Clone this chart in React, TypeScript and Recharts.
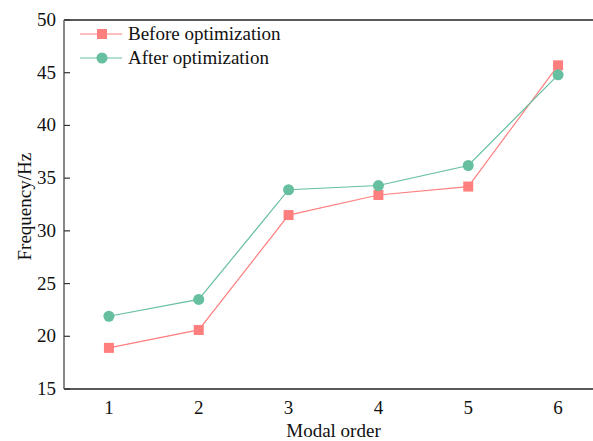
import { LineChart, Line, XAxis, YAxis, ReferenceLine } from "recharts";

const modes = [1, 2, 3, 4, 5, 6];
const before = [18.9, 20.6, 31.5, 33.4, 34.2, 45.7];
const after = [21.9, 23.5, 33.9, 34.3, 36.2, 44.8];
const yTicks = [15, 20, 25, 30, 35, 40, 45, 50];

const RED = "#ff7f7f";
const GREEN = "#66bf9f";
const FONT = "'Liberation Serif', 'Times New Roman', serif";
const FS = 19;

const data = modes.map((m, i) => ({ mode: m, before: before[i], after: after[i] }));

const SquareDot = (props: any) => {
  const { cx, cy, index } = props;
  return <rect key={`s-${index}`} x={cx - 5} y={cy - 5} width={10} height={10} fill={RED} />;
};

const CircleDot = (props: any) => {
  const { cx, cy, index } = props;
  return <circle key={`c-${index}`} cx={cx} cy={cy} r={5.5} fill={GREEN} />;
};

const YTick = (props: any) => {
  const { x, y, payload } = props;
  return (
    <g>
      <line x1={x} x2={x + 6} y1={y} y2={y} stroke="#333" strokeWidth={1.2} />
      <text x={x - 8} y={y} dy={6} textAnchor="end" fontSize={FS} fontFamily={FONT} fill="#111">
        {payload.value}
      </text>
    </g>
  );
};

const legendItems = [
  { name: "Before optimization", color: RED, sq: true },
  { name: "After optimization", color: GREEN, sq: false },
];

const LegendBox = () => (
  <div style={{ position: "absolute", left: 78, top: 22, fontFamily: FONT, fontSize: FS, color: "#111", lineHeight: "24px" }}>
    {legendItems.map((it) => (
      <div key={it.name} style={{ display: "flex", alignItems: "center" }}>
        <svg width={46} height={14}>
          <line x1={2} x2={44} y1={7} y2={7} stroke={it.color} strokeWidth={1.2} />
          {it.sq ? (
            <rect x={19} y={2} width={10} height={10} fill={it.color} />
          ) : (
            <circle cx={24} cy={7} r={5.5} fill={it.color} />
          )}
        </svg>
        <span style={{ marginLeft: 4 }}>{it.name}</span>
      </div>
    ))}
  </div>
);

export default function App() {
  return (
    <div style={{ position: "fixed", left: 0, top: 0, width: 593, height: 441, overflow: "hidden", background: "#fff" }}>
      <LineChart width={620} height={441} data={data} margin={{ top: 20, right: 17, left: 10, bottom: 22 }}>
        <ReferenceLine y={50} stroke="#222" strokeWidth={1.5} />
        <XAxis
          dataKey="mode"
          type="number"
          domain={[0.5, 6.5]}
          ticks={modes}
          height={30}
          axisLine={{ stroke: "#222", strokeWidth: 1.5 }}
          tickLine={false}
          tick={{ fontSize: FS, fontFamily: FONT, fill: "#111" }}
          tickMargin={6}
          label={{ value: "Modal order", position: "insideBottom", offset: -18, fontSize: FS, fontFamily: FONT, fill: "#111" }}
        />
        <YAxis
          type="number"
          domain={[15, 50]}
          ticks={yTicks}
          width={54}
          tickSize={0}
          tickMargin={0}
          tickLine={false}
          axisLine={{ stroke: "#888", strokeWidth: 2 }}
          tick={<YTick />}
          label={{ value: "Frequency/Hz", angle: -90, position: "insideLeft", offset: 14, dy: 56, fontSize: FS, fontFamily: FONT, fill: "#111" }}
        />
        <Line
          dataKey="before"
          name="Before optimization"
          stroke={RED}
          strokeWidth={1.2}
          dot={<SquareDot />}
          activeDot={false}
          isAnimationActive={false}
        />
        <Line
          dataKey="after"
          name="After optimization"
          stroke={GREEN}
          strokeWidth={1.2}
          dot={<CircleDot />}
          activeDot={false}
          isAnimationActive={false}
        />
      </LineChart>
      <LegendBox />
    </div>
  );
}
